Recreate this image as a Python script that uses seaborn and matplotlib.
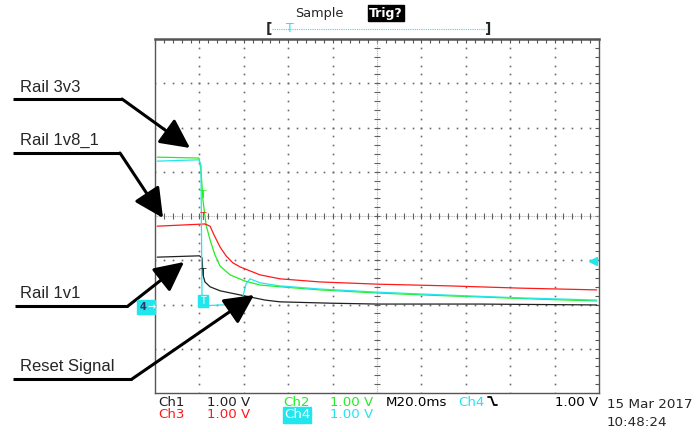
import numpy as np
import pandas as pd
import matplotlib
matplotlib.use("Agg")
import matplotlib.pyplot as plt
from matplotlib.lines import Line2D
from matplotlib.patches import Rectangle
import seaborn as sns

# ---- data (time in ms, value in screen divisions; 1.00 V/div) ----
ch1_t = [1, 20, 21.2, 21.6, 22.5, 24.8, 29.3, 36.0, 42.8, 49.6, 56.3, 78.8, 100, 146, 199]
ch1_v = [-0.93, -0.90, -0.95, -1.33, -1.49, -1.60, -1.69, -1.76, -1.83, -1.90, -1.94, -1.97, -1.99, -1.99, -2.01]

ch2_t = [1, 19.8, 20.7, 21.6, 23.0, 24.8, 27.0, 29.3, 33.8, 40.5, 47.3, 56.3, 74.3, 100, 123.9, 146.4, 173.4, 199]
ch2_v = [1.33, 1.31, 1.04, 0.36, -0.20, -0.54, -0.88, -1.13, -1.33, -1.47, -1.56, -1.60, -1.67, -1.74, -1.79, -1.83, -1.88, -1.92]

ch3_t = [1, 22.5, 24.8, 26.6, 29.3, 32.0, 35.1, 38.3, 42.8, 47.3, 56.3, 74.3, 100, 132.9, 164.4, 199]
ch3_v = [-0.23, -0.18, -0.23, -0.43, -0.70, -0.90, -1.06, -1.15, -1.24, -1.33, -1.42, -1.49, -1.54, -1.58, -1.63, -1.67]

ch4_t = [1, 19.8, 20.7, 21.2, 22.5, 29.3, 37.4, 39.2, 41.0, 42.8, 47.3, 56.3, 74.3, 100, 132.9, 164.4, 199]
ch4_v = [1.24, 1.27, 1.15, -2.03, -2.03, -2.01, -2.01, -1.90, -1.54, -1.42, -1.51, -1.58, -1.65, -1.72, -1.79, -1.85, -1.90]

channels = ["Ch1", "Ch2", "Ch3", "Ch4"]
colors = {"Ch1": "#202020", "Ch2": "#22ee22", "Ch3": "#ff1a1a", "Ch4": "#22e6ee"}

labels = ["Rail 3v3", "Rail 1v8_1", "Rail 1v1", "Reset Signal"]

df = pd.concat([
    pd.DataFrame({"t": ch1_t, "v": ch1_v, "ch": "Ch1"}),
    pd.DataFrame({"t": ch2_t, "v": ch2_v, "ch": "Ch2"}),
    pd.DataFrame({"t": ch3_t, "v": ch3_v, "ch": "Ch3"}),
    pd.DataFrame({"t": ch4_t, "v": ch4_v, "ch": "Ch4"}),
], ignore_index=True)

sns.set_style("white")
plt.rcParams["font.family"] = ["Liberation Sans", "DejaVu Sans"]
SCOPE = ["DejaVu Sans"]

W, H = 696, 432
fig = plt.figure(figsize=(W / 100, H / 100), dpi=100)
fig.patch.set_facecolor("white")
ax = fig.add_axes([155 / W, 1 - 393 / H, 444 / W, 354 / H])
ax.set_xlim(0, 200)
ax.set_ylim(-4, 4)

# graticule
grid_c = "#6a6a6a"
for gx in range(20, 200, 20):
    if gx == 100:
        continue
    ys = np.arange(-4, 4.001, 0.2)
    ax.plot([gx] * len(ys), ys, ls="none", marker="s", ms=1.2, color=grid_c, mew=0, zorder=1)
for gy in [-3, -2, -1, 1, 2, 3]:
    xs = np.arange(0, 200.001, 4)
    ax.plot(xs, [gy] * len(xs), ls="none", marker="s", ms=1.2, color=grid_c, mew=0, zorder=1)
# centre lines with ticks
ax.plot([100, 100], [-4, 4], ls=(0, (0.8, 0.8)), lw=0.8, color="#b0b0b0", zorder=1)
ax.plot([0, 200], [0, 0], ls=(0, (0.8, 0.8)), lw=0.8, color="#b0b0b0", zorder=1)
yt = np.arange(-4, 4.001, 0.2)
ax.plot([100] * len(yt), yt, ls="none", marker="_", ms=5, mew=0.8, color="#606060", zorder=1)
xt = np.arange(0, 200.001, 4)
ax.plot(xt, [0] * len(xt), ls="none", marker="|", ms=5, mew=0.8, color="#606060", zorder=1)

# edge ticks
ax.set_xticks(np.arange(0, 201, 20))
ax.set_yticks(np.arange(-4, 5, 1))
ax.set_xticks(np.arange(0, 201, 4), minor=True)
ax.set_yticks(np.arange(-4, 4.01, 0.2), minor=True)
ax.tick_params(which="both", direction="in", length=3, width=0.8, color="#555555",
               top=True, right=True, labelbottom=False, labelleft=False)
for s in ax.spines.values():
    s.set_color("#555555")
    s.set_linewidth(1.0)
ax.spines["top"].set_linewidth(1.8)

sns.lineplot(data=df, x="t", y="v", hue="ch", palette=colors, sort=False,
             estimator=None, lw=0.9, legend=False, ax=ax, zorder=3)
ax.set_xlabel("")
ax.set_ylabel("")

# trigger markers on traces
ax.text(21.5, 0.47, "T", color=colors["Ch2"], fontsize=8, ha="center", va="center", zorder=4)
ax.text(21.5, -0.02, "T", color=colors["Ch3"], fontsize=8, ha="center", va="center", zorder=4)
ax.text(21.5, -1.28, "T", color=colors["Ch1"], fontsize=8, ha="center", va="center", zorder=4)
ax.add_patch(Rectangle((19.5, -2.05), 4.5, 0.26, color=colors["Ch4"], zorder=4))
ax.text(21.8, -1.93, "T", color="white", fontsize=7, ha="center", va="center", zorder=5)
ax.plot([197.5], [-1.02], marker="<", ms=6, color=colors["Ch4"], clip_on=False, zorder=5)


def P(x, y):
    return (x, H - y)


# annotations with arrows
arrow_specs = [
    (labels[0], (20, 87), (13, 99), (122, 99), (190, 148)),
    (labels[1], (20, 140), (13, 153), (120, 153), (163, 218)),
    (labels[2], (20, 293), (15, 306), (128, 306), (184, 262)),
    (labels[3], (20, 367), (13, 379), (132, 379), (254, 295)),
]
for lab, tpos, a, b, tip in arrow_specs:
    fig.text(tpos[0] / W, 1 - tpos[1] / H, lab, fontsize=12, va="center", ha="left")
    fig.add_artist(Line2D([a[0] / W, b[0] / W], [1 - a[1] / H, 1 - b[1] / H],
                          color="black", lw=2.2, solid_capstyle="butt"))
    ax.annotate("", xy=P(*tip), xycoords="figure pixels", xytext=P(*b), textcoords="figure pixels",
                arrowprops=dict(arrowstyle="-|>,head_length=1.2,head_width=0.6", mutation_scale=15,
                                color="black", lw=2.2, shrinkA=0, shrinkB=0),
                annotation_clip=False)

# left ground marker
fig.add_artist(Rectangle((137 / W, 1 - 314 / H), 18 / W, 14 / H, color=colors["Ch4"],
                         transform=fig.transFigure))
fig.text(140 / W, 1 - 307 / H, "4", fontsize=7, color="#333366", va="center", ha="left",
         weight="bold", family=SCOPE)
fig.text(147 / W, 1 - 307 / H, "→", fontsize=7, color="white", va="center", ha="left", family=SCOPE)

# top status
fig.text(295 / W, 1 - 13 / H, "Sample", fontsize=9.3, va="center", ha="left", family=SCOPE)
fig.text(369 / W, 1 - 13 / H, "Trig?", fontsize=9, va="center", ha="left", color="white",
         weight="bold", family=SCOPE,
         bbox=dict(boxstyle="square,pad=0.1", fc="black", ec="black"))
fig.text(266 / W, 1 - 29 / H, "[", fontsize=10, va="center", ha="left", weight="bold", family=SCOPE)
fig.text(485 / W, 1 - 29 / H, "]", fontsize=10, va="center", ha="left", weight="bold", family=SCOPE)
fig.add_artist(Line2D([272 / W, 486 / W], [1 - 29 / H, 1 - 29 / H], color=colors["Ch4"],
                      lw=0.8, ls=(0, (1, 1))))
fig.text(290 / W, 1 - 29 / H, "T", fontsize=9, va="center", ha="center", color=colors["Ch4"],
         family=SCOPE)

# bottom readout
row1, row2 = 402, 415
fs = 9.6
bottom = [
    ("Ch1", 158, row1, colors["Ch1"]), ("1.00 V", 207, row1, colors["Ch1"]),
    ("Ch2", 283, row1, colors["Ch2"]), ("1.00 V", 330, row1, colors["Ch2"]),
    ("M20.0ms", 386, row1, "black"), ("Ch4", 458, row1, colors["Ch4"]),
    ("1.00 V", 555, row1, "black"),
    ("Ch3", 158, row2, colors["Ch3"]), ("1.00 V", 207, row2, colors["Ch3"]),
    ("1.00 V", 330, row2, colors["Ch4"]),
]
for s, x, y, c in bottom:
    fig.text(x / W, 1 - y / H, s, fontsize=fs, color=c, va="center", ha="left", family=SCOPE)
fig.text(284 / W, 1 - row2 / H, "Ch4", fontsize=fs, color="white", va="center", ha="left",
         family=SCOPE, bbox=dict(boxstyle="square,pad=0.08", fc=colors["Ch4"], ec=colors["Ch4"]))
fig.add_artist(Line2D(np.array([488, 491, 494, 497]) / W, 1 - np.array([397, 397, 405, 405]) / H,
                      color="black", lw=1.3))
fig.text(607 / W, 1 - 404 / H, "15 Mar 2017", fontsize=9.7, va="center", ha="left", family=SCOPE)
fig.text(607 / W, 1 - 422 / H, "10:48:24", fontsize=9.7, va="center", ha="left", family=SCOPE)

fig.savefig("out.png", dpi=100, facecolor="white")
